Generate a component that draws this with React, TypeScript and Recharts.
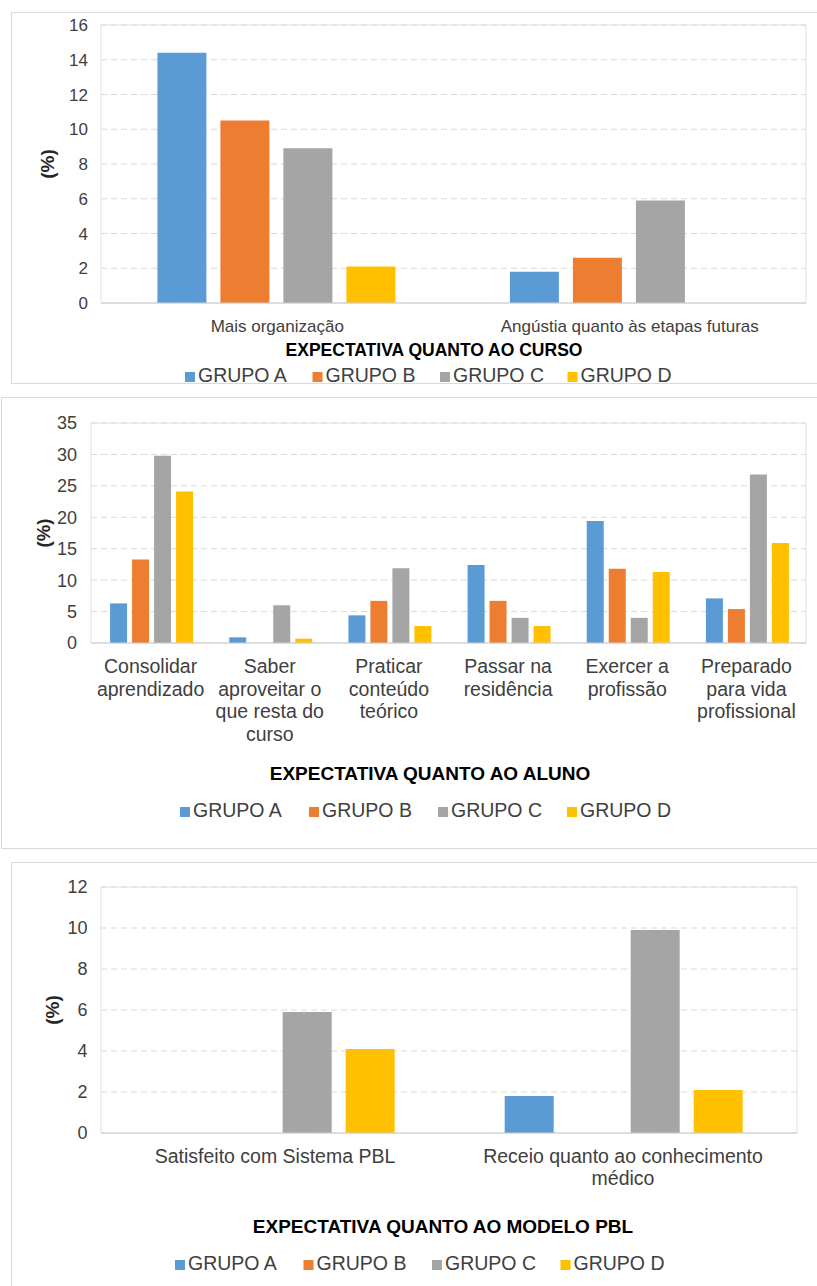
import React from 'react';
import { BarChart, Bar, XAxis, YAxis, CartesianGrid, ReferenceArea } from 'recharts';

const FONT = '"Liberation Sans", Arial, sans-serif';
const TEXT = '#404040';

const SERIES = ['GRUPO A', 'GRUPO B', 'GRUPO C', 'GRUPO D'];
const KEYS = ['A', 'B', 'C', 'D'];
const COLORS = ['#5B9BD5', '#ED7D31', '#A5A5A5', '#FFC000'];

// Panel 1 – Expectativa quanto ao curso
const cursoCategories = ['Mais organização', 'Angústia quanto às etapas futuras'];
const cursoA = [14.4, 1.8];
const cursoB = [10.5, 2.6];
const cursoC = [8.9, 5.9];
const cursoD = [2.1, 0];
const cursoTicks = [0, 2, 4, 6, 8, 10, 12, 14, 16];
const cursoTitle = 'EXPECTATIVA QUANTO AO CURSO';

// Panel 2 – Expectativa quanto ao aluno
const alunoCategories = [
  'Consolidar\naprendizado',
  'Saber\naproveitar o\nque resta do\ncurso',
  'Praticar\nconteúdo\nteórico',
  'Passar na\nresidência',
  'Exercer a\nprofissão',
  'Preparado\npara vida\nprofissional',
];
const alunoA = [6.3, 0.9, 4.4, 12.4, 19.4, 7.1];
const alunoB = [13.3, 0, 6.7, 6.7, 11.8, 5.4];
const alunoC = [29.8, 6.0, 11.9, 4.0, 4.0, 26.8];
const alunoD = [24.1, 0.7, 2.7, 2.7, 11.3, 15.9];
const alunoTicks = [0, 5, 10, 15, 20, 25, 30, 35];
const alunoTitle = 'EXPECTATIVA QUANTO AO ALUNO';

// Panel 3 – Expectativa quanto ao modelo PBL
const pblCategories = ['Satisfeito com Sistema PBL', 'Receio quanto ao conhecimento\nmédico'];
const pblA = [0, 1.8];
const pblB = [0, 0];
const pblC = [5.9, 9.9];
const pblD = [4.1, 2.1];
const pblTicks = [0, 2, 4, 6, 8, 10, 12];
const pblTitle = 'EXPECTATIVA QUANTO AO MODELO PBL';

const yLabel = '(%)';

function buildRows(cats: string[], a: number[], b: number[], c: number[], d: number[]) {
  return cats.map((name, i) => ({ name, A: a[i], B: b[i], C: c[i], D: d[i] }));
}

function MultiTick(props: any) {
  const { x, y, payload, fs, dyFirst, lineH } = props;
  const lines = String(payload.value).split('\n');
  return (
    <text x={x} y={y} textAnchor="middle" fill={TEXT} fontSize={fs} fontFamily={FONT}>
      {lines.map((ln: string, i: number) => (
        <tspan key={i} x={x} dy={i === 0 ? dyFirst : lineH}>
          {ln}
        </tspan>
      ))}
    </text>
  );
}

type Cfg = {
  rows: any[];
  top: number;
  height: number;
  margin: { top: number; right: number; bottom: number; left: number };
  yWidth: number;
  ticks: number[];
  yFont: number;
  yTickMargin: number;
  xFont: number;
  xDy: number;
  xLineH: number;
  xHeight: number;
  barGap: number;
  labelDx: number;
  labelFont: number;
};

function Panel({ cfg }: { cfg: Cfg }) {
  const yMax = cfg.ticks[cfg.ticks.length - 1];
  return (
    <div style={{ position: 'absolute', left: 0, top: cfg.top }}>
      <BarChart
        width={817}
        height={cfg.height}
        data={cfg.rows}
        margin={cfg.margin}
        barCategoryGap="16%"
        barGap={cfg.barGap}
      >
        <CartesianGrid vertical={false} stroke="#D9D9D9" strokeDasharray="6 4" />
        <ReferenceArea y1={0} y2={yMax} fill="none" stroke="#D9E1EA" strokeWidth={1} ifOverflow="visible" />
        <XAxis
          dataKey="name"
          interval={0}
          height={cfg.xHeight}
          tickSize={0}
          tickMargin={0}
          tickLine={false}
          axisLine={{ stroke: '#D0D0D0' }}
          tick={<MultiTick fs={cfg.xFont} dyFirst={cfg.xDy} lineH={cfg.xLineH} />}
        />
        <YAxis
          width={cfg.yWidth}
          domain={[0, yMax]}
          ticks={cfg.ticks}
          interval={0}
          tickSize={0}
          tickMargin={cfg.yTickMargin}
          tickLine={false}
          axisLine={false}
          tick={{ fill: TEXT, fontSize: cfg.yFont, fontFamily: FONT }}
          label={{
            value: yLabel,
            angle: -90,
            position: 'center',
            dx: cfg.labelDx,
            style: { fontWeight: 'bold', fontSize: cfg.labelFont, fill: '#262626', fontFamily: FONT },
          }}
        />
        {KEYS.map((k, i) => (
          <Bar key={k} dataKey={k} name={SERIES[i]} fill={COLORS[i]} isAnimationActive={false} />
        ))}
      </BarChart>
    </div>
  );
}

const panels: Cfg[] = [
  {
    rows: buildRows(cursoCategories, cursoA, cursoB, cursoC, cursoD),
    top: 12,
    height: 371,
    margin: { top: 13, right: 11, bottom: 0, left: 0 },
    yWidth: 101,
    ticks: cursoTicks,
    yFont: 17,
    yTickMargin: 13,
    xFont: 17,
    xDy: 28.5,
    xLineH: 21,
    xHeight: 80,
    barGap: 14,
    labelDx: -3.5,
    labelFont: 19,
  },
  {
    rows: buildRows(alunoCategories, alunoA, alunoB, alunoC, alunoD),
    top: 397,
    height: 451,
    margin: { top: 26, right: 11, bottom: 0, left: 0 },
    yWidth: 91,
    ticks: alunoTicks,
    yFont: 18,
    yTickMargin: 14,
    xFont: 19.5,
    xDy: 30,
    xLineH: 22.5,
    xHeight: 205,
    barGap: 5,
    labelDx: -2.5,
    labelFont: 18.5,
  },
  {
    rows: buildRows(pblCategories, pblA, pblB, pblC, pblD),
    top: 862,
    height: 424,
    margin: { top: 25, right: 20, bottom: 0, left: 0 },
    yWidth: 101,
    ticks: pblTicks,
    yFont: 18,
    yTickMargin: 13.5,
    xFont: 19.5,
    xDy: 30,
    xLineH: 22,
    xHeight: 153,
    barGap: 14,
    labelDx: 1.5,
    labelFont: 19,
  },
];

const titles = [
  { text: cursoTitle, x: 434, y: 356, fs: 17.5 },
  { text: alunoTitle, x: 430, y: 780, fs: 19 },
  { text: pblTitle, x: 443, y: 1233, fs: 19 },
];

const legends = [
  { x0: 185, step: 127.5, y: 382 },
  { x0: 180, step: 129, y: 817 },
  { x0: 175, step: 128.5, y: 1270 },
];

const boxes = [
  { left: 11, top: 12, height: 372 },
  { left: 1, top: 397, height: 452 },
  { left: 11, top: 862, height: 600 },
];

export default function App() {
  return (
    <div
      style={{
        position: 'absolute',
        left: 0,
        top: 0,
        width: 817,
        height: 1286,
        overflow: 'hidden',
        background: '#fff',
        fontFamily: FONT,
      }}
    >
      {boxes.map((b, i) => (
        <div
          key={i}
          style={{
            position: 'absolute',
            left: b.left,
            top: b.top,
            width: 900,
            height: b.height,
            border: '1px solid #D9D9D9',
            boxSizing: 'border-box',
          }}
        />
      ))}
      {panels.map((p, i) => (
        <Panel key={i} cfg={p} />
      ))}
      <svg
        width={817}
        height={1286}
        style={{ position: 'absolute', left: 0, top: 0, pointerEvents: 'none' }}
      >
        {titles.map((t, i) => (
          <text
            key={i}
            x={t.x}
            y={t.y}
            textAnchor="middle"
            fontFamily={FONT}
            fontWeight="bold"
            fontSize={t.fs}
            fill="#000"
          >
            {t.text}
          </text>
        ))}
        {legends.map((l, li) => (
          <g key={li}>
            {SERIES.map((s, i) => (
              <g key={s}>
                <rect x={l.x0 + i * l.step} y={l.y - 10} width={10} height={10} fill={COLORS[i]} />
                <text x={l.x0 + i * l.step + 13} y={l.y} fontFamily={FONT} fontSize={19.5} fill={TEXT}>
                  {s}
                </text>
              </g>
            ))}
          </g>
        ))}
      </svg>
    </div>
  );
}
